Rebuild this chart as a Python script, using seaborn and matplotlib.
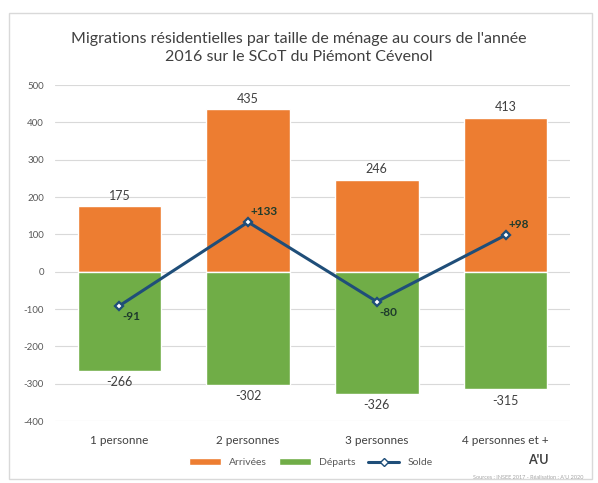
import matplotlib
matplotlib.use('Agg')
import matplotlib.pyplot as plt
import seaborn as sns
from matplotlib.lines import Line2D
from matplotlib.patches import Patch, Rectangle

categories = ['1 personne', '2 personnes', '3 personnes', '4 personnes et +']
arrivees = [175, 435, 246, 413]
departs = [-266, -302, -326, -315]
solde = [-91, 133, -80, 98]
solde_labels = ['-91', '+133', '-80', '+98']
yticks = [-400, -300, -200, -100, 0, 100, 200, 300, 400, 500]

ORANGE = '#ED7D31'
GREEN = '#70AD47'
BLUE = '#1F4E79'

sns.set_style('white')
plt.rcParams['font.family'] = ['Lato', 'DejaVu Sans']

fig = plt.figure(figsize=(5.98, 4.83), dpi=100)
ax = fig.add_axes([0.092, 0.128, 0.861, 0.696])

sns.barplot(x=categories, y=arrivees, color=ORANGE, width=0.65, saturation=1, ax=ax, zorder=2)
sns.barplot(x=categories, y=departs, color=GREEN, width=0.65, saturation=1, ax=ax, zorder=2)
sns.pointplot(x=categories, y=solde, color=BLUE, markers='D', markersize=4, linewidth=2.2, ax=ax)
for ln in ax.lines:
    ln.set_markerfacecolor('white')
    ln.set_markeredgecolor(BLUE)
    ln.set_zorder(4)

ax.set_ylim(-400, 500)
ax.set_yticks(yticks)
ax.set_yticklabels([str(v) for v in yticks], fontsize=7, color='#595959')
ax.tick_params(axis='x', labelsize=8.5, colors='#404040', length=0, pad=10)
ax.tick_params(axis='y', length=0, pad=8)
ax.grid(axis='y', color='#D9D9D9', linewidth=0.8, zorder=0)
ax.set_axisbelow(True)
for s in ax.spines.values():
    s.set_visible(False)
ax.set_xlabel('')
ax.set_ylabel('')

for i, v in enumerate(arrivees):
    ax.text(i, v + 12, str(v), ha='center', va='bottom', fontsize=9, color='#404040')
for i, v in enumerate(departs):
    ax.text(i, v - 14, str(v), ha='center', va='top', fontsize=9, color='#404040')
for i, (v, lab) in enumerate(zip(solde, solde_labels)):
    if v < 0:
        ax.text(i + 0.02, v - 14, lab, ha='left', va='top', fontsize=8.5, color='#1E3B2C', fontweight='bold')
    else:
        ax.text(i + 0.02, v + 14, lab, ha='left', va='bottom', fontsize=8.5, color='#1E3B2C', fontweight='bold')

fig.text(0.5, 0.92, "Migrations résidentielles par taille de ménage au cours de l'année",
         ha='center', va='center', fontsize=11.5, color='#404040')
fig.text(0.5, 0.881, '2016 sur le SCoT du Piémont Cévenol',
         ha='center', va='center', fontsize=11.5, color='#404040')

handles = [Patch(facecolor=ORANGE, label='Arrivées'),
           Patch(facecolor=GREEN, label='Départs'),
           Line2D([0], [0], color=BLUE, linewidth=2.2, marker='D', markersize=4,
                  markerfacecolor='white', markeredgecolor=BLUE, label='Solde')]
fig.legend(handles=handles, loc='center', bbox_to_anchor=(0.52, 0.042), ncol=3, frameon=False,
           fontsize=7.5, handlelength=3, handleheight=0.6, columnspacing=1.2, labelcolor='#595959')

fig.text(0.9, 0.048, "A'U", ha='center', va='center', fontsize=9, color='#404040', fontweight='bold')
fig.text(0.975, 0.012, 'Sources : INSEE 2017 - Réalisation : A\'U 2020', ha='right', va='center',
         fontsize=4, color='#A6A6A6')

fig.patches.append(Rectangle((0.015, 0.008), 0.975, 0.965, transform=fig.transFigure,
                             fill=False, edgecolor='#D9D9D9', linewidth=1))

fig.savefig('out.png', dpi=100)
